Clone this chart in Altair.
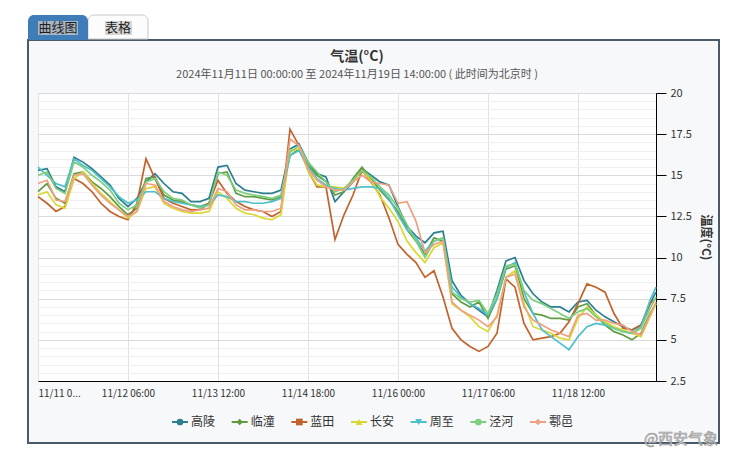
import altair as alt
import pandas as pd

FONT = "Noto Sans CJK SC"

series = ["高陵", "临潼", "蓝田", "长安", "周至", "泾河", "鄠邑"]
colors = ["#2b7f8f", "#5f9c41", "#c2622c", "#d8d830", "#4fbfcc", "#7ccf7c", "#eea182"]
shapes = ["circle", "diamond", "square", "triangle-up", "triangle-down", "circle", "diamond"]

# hours after 2024-11-11 00:00
hours = [0, 3, 6, 9, 12, 15, 18, 21, 24, 27,
         30, 33, 36, 39, 42, 45, 48, 51, 54, 57,
         60, 63, 66, 69, 72, 75, 78, 81, 84, 87,
         90, 93, 96, 99, 102, 105, 108, 111, 114, 117,
         120, 123, 126, 129, 132, 135, 138, 141, 144, 147,
         150, 153, 156, 159, 162, 165, 168, 171, 174, 177,
         180, 183, 186, 189, 192, 195, 198, 201, 204, 206]

gaoling = [15.3, 15.4, 14.3, 14.0, 16.1, 15.8, 15.4, 14.9, 14.4, 13.6,
           13.1, 13.6, 14.6, 15.1, 14.5, 14.0, 13.9, 13.4, 13.4, 13.6,
           15.5, 15.6, 14.5, 14.1, 14.0, 13.9, 13.9, 14.1, 16.6, 16.9,
           15.8, 15.1, 14.9, 13.4, 14.0, 14.6, 15.4, 15.0, 14.6, 14.4,
           13.1, 11.9, 11.3, 10.9, 11.5, 11.6, 8.6, 7.7, 7.2, 6.8,
           6.4, 8.0, 9.8, 10.0, 8.6, 7.8, 7.3, 7.0, 7.0, 6.7,
           7.3, 7.4, 6.8, 6.4, 6.1, 5.8, 5.6, 5.9, 7.2, 7.9]
lintong = [14.0, 14.5, 13.6, 13.3, 15.1, 15.2, 14.6, 14.2, 13.7, 13.1,
           12.6, 13.0, 14.8, 14.9, 13.8, 13.5, 13.4, 13.2, 13.1, 13.3,
           15.1, 15.2, 13.9, 13.7, 13.7, 13.6, 13.5, 13.7, 16.2, 16.6,
           15.6, 15.0, 14.6, 13.8, 14.0, 14.8, 15.5, 14.8, 14.1, 13.5,
           12.8, 11.7, 11.0, 10.2, 11.2, 11.0, 7.8, 7.3, 7.0, 7.3,
           6.3, 7.5, 9.3, 9.5, 7.5, 6.6, 6.5, 6.3, 6.3, 6.2,
           7.0, 7.2, 6.5, 5.9, 5.5, 5.3, 5.0, 5.4, 6.6, 7.2]
lantian = [13.7, 13.3, 12.8, 13.1, 14.8, 14.5, 14.0, 13.3, 12.8, 12.5,
           12.3, 13.3, 16.0, 14.8, 13.6, 13.3, 13.1, 12.9, 12.9, 13.3,
           14.7, 13.9, 13.4, 13.1, 12.9, 12.8, 12.5, 12.8, 17.8, 16.8,
           15.3, 14.3, 14.3, 11.1, 12.6, 13.8, 15.3, 14.6, 13.8, 12.4,
           10.8, 10.2, 9.7, 8.8, 9.2, 7.6, 5.7, 5.0, 4.6, 4.3,
           4.6, 5.4, 8.7, 8.2, 6.0, 5.0, 5.1, 5.2, 5.4, 6.1,
           7.2, 8.4, 8.2, 7.9, 6.6, 5.7, 5.6, 5.9, 7.2, 7.5]
changan = [13.8, 14.0, 13.2, 13.0, 14.8, 15.2, 14.5, 13.9, 13.4, 12.9,
           12.4, 12.8, 14.2, 14.3, 13.3, 13.0, 12.8, 12.7, 12.7, 12.8,
           14.0, 13.6, 13.0, 12.7, 12.6, 12.4, 12.3, 12.6, 16.5, 16.6,
           15.3, 14.4, 14.3, 14.3, 14.2, 14.6, 15.3, 14.7, 13.7, 13.0,
           12.2, 11.0, 10.3, 9.7, 10.6, 10.9, 7.2, 6.8, 6.4, 5.8,
           5.5, 6.5, 8.8, 9.2, 7.2, 5.8, 5.6, 5.4, 5.1, 5.0,
           6.3, 7.0, 6.5, 6.1, 5.8, 5.6, 5.4, 5.2, 6.4, 7.2]
zhouzhi = [15.5, 15.0, 14.5, 14.3, 16.0, 15.6, 15.3, 14.8, 14.3, 13.7,
           13.3, 13.5, 14.0, 14.0, 13.6, 13.4, 13.3, 13.2, 13.1, 13.2,
           13.8, 13.7, 13.4, 13.4, 13.3, 13.3, 13.4, 13.6, 16.2, 16.5,
           15.5, 14.8, 14.4, 14.2, 14.1, 14.2, 14.3, 14.3, 14.2, 13.6,
           12.6, 11.7, 11.2, 10.4, 11.0, 11.2, 8.2, 7.6, 7.2, 6.9,
           6.5, 7.5, 9.4, 9.7, 7.9, 6.6, 5.6, 5.2, 4.8, 4.4,
           5.2, 5.8, 6.0, 5.9, 5.7, 5.5, 5.4, 5.8, 7.4, 8.2]
jinghe = [15.0, 15.2, 14.2, 13.9, 15.8, 15.5, 15.0, 14.6, 14.1, 13.3,
          12.9, 13.2, 14.6, 14.8, 14.0, 13.6, 13.5, 13.2, 13.0, 13.2,
          15.2, 15.0, 14.1, 13.9, 13.8, 13.7, 13.6, 13.8, 16.4, 16.8,
          15.8, 15.2, 14.6, 14.0, 14.2, 14.7, 15.3, 14.9, 14.3, 13.8,
          13.0, 12.0, 11.0, 10.0, 11.0, 11.2, 7.9, 7.5, 7.3, 7.4,
          6.6, 7.8, 9.5, 9.6, 8.0, 7.4, 7.2, 6.9, 6.6, 6.3,
          6.7, 6.9, 6.4, 6.0, 5.7, 5.5, 5.4, 5.7, 6.9, 7.6]
huyi = [14.5, 14.7, 13.5, 13.4, 15.0, 15.1, 14.4, 13.8, 13.3, 12.9,
        12.5, 12.8, 14.5, 14.4, 13.4, 13.1, 12.9, 12.8, 12.9, 13.0,
        14.2, 14.0, 13.2, 12.9, 12.9, 12.8, 12.8, 13.0, 17.2, 16.8,
        15.4, 14.7, 14.3, 14.1, 14.1, 14.6, 15.0, 14.6, 14.5, 14.4,
        13.3, 13.4, 12.2, 10.3, 10.8, 11.0, 7.3, 6.8, 6.5, 6.2,
        5.8, 6.4, 8.8, 9.0, 7.0, 6.2, 5.9, 5.6, 5.4, 5.2,
        6.5, 6.6, 6.2, 6.2, 6.0, 5.9, 5.5, 5.3, 6.5, 7.3]

values_by_series = [gaoling, lintong, lantian, changan, zhouzhi, jinghe, huyi]

# x tick positions (day of November, hour)
x_ticks = [(11, 0), (12, 6), (13, 12), (14, 18), (16, 0), (17, 6), (18, 12)]
y_labels = [2.5, 5, 7.5, 10, 12.5, 15, 17.5, 20]
y_grid = [2.5 + 0.5 * k for k in range(36)]

title_text = "气温(°C)"
subtitle_text = "2024年11月11日 00:00:00 至 2024年11月19日 14:00:00 ( 此时间为北京时 )"
y_title = "温度(°C)"

rows = []
for name, vals in zip(series, values_by_series):
    for h, v in zip(hours, vals):
        t = f"2024-11-{11 + h // 24:02d}T{h % 24:02d}:00:00Z"
        rows.append({"t": t, "name": name, "v": v})
df = pd.DataFrame(rows)

W, H = 618, 288
one = pd.DataFrame({"k": [0]})

color_scale = alt.Scale(domain=series, range=colors)

x_scale = alt.Scale(
    type="utc",
    domain=[alt.DateTime(year=2024, month=11, date=11, hours=0, utc=True),
            alt.DateTime(year=2024, month=11, date=19, hours=14, utc=True)],
    nice=False,
)
x_axis = alt.Axis(
    values=[alt.DateTime(year=2024, month=11, date=d, hours=hh, utc=True) for d, hh in x_ticks],
    labelExpr="datum.value <= 1731283200000 ? '11/11 0...' : utcFormat(datum.value, '%m/%d %H:%M')",
    labelFlush=True, labelOverlap=False, ticks=False, grid=True,
    gridColor="#e2e2e2", gridWidth=1, domainColor="#000000", domainWidth=1,
    labelFontSize=10, labelColor="#333333", labelPadding=7, title=None,
)
y_axis = alt.Axis(
    orient="right", values=y_grid, labelOverlap=False,
    labelExpr="datum.value % 2.5 == 0 ? format(datum.value, '.1~f') : ''",
    gridColor={"condition": {"test": "datum.value % 2.5 == 0", "value": "#dadada"}, "value": "#f0f0f0"},
    tickOpacity={"condition": {"test": "datum.value % 2.5 == 0", "value": 1}, "value": 0},
    tickSize=10, tickColor="#000000", domainColor="#000000", domainWidth=1,
    labelFontSize=11, labelColor="#333333", labelPadding=4,
    title=y_title, titleAngle=90, titleFontSize=12, titleColor="#333333",
    titlePadding=7, titleFontWeight="bold",
)

lines = alt.Chart(df).mark_line(strokeWidth=1.7).encode(
    x=alt.X("t:T", scale=x_scale, axis=x_axis),
    y=alt.Y("v:Q", scale=alt.Scale(domain=[2.5, 20], nice=False, zero=False), axis=y_axis),
    color=alt.Color("name:N", scale=color_scale, legend=None),
)

# decorations (outside the plot area)
def box(x1, x2, y1, y2, **kw):
    return alt.Chart(one).mark_rect(**kw).encode(
        x=alt.value(x1), x2=alt.value(x2), y=alt.value(y1), y2=alt.value(y2))

def label(x, y, text, **kw):
    return alt.Chart(one).mark_text(font=FONT, **kw).encode(
        x=alt.value(x), y=alt.value(y), text=alt.value(text))

whites = [
    box(-30, 685, -85, -53, color="#ffffff"),
    box(-30, -10, -85, 358, color="#ffffff"),
    box(681, 685, -85, 358, color="#ffffff"),
    box(-30, 685, 350, 358, color="#ffffff"),
]
panel = box(-10, 681, -53, 350, fillOpacity=0, stroke="#4a5a6b", strokeWidth=2)
panel_top = box(-10, 681, -54, -52, color="#4a5a6b")
tab1 = box(-10, 50, -78, -53, color="#3f7db8", cornerRadiusTopLeft=6, cornerRadiusTopRight=6)
tab2 = box(50, 110, -78, -54, fill="#fcfcfc", stroke="#c9c9c9", strokeWidth=1,
           cornerRadiusTopLeft=6, cornerRadiusTopRight=6)
hl1 = box(0, 40, -72, -58, color="#a9b6c4")
hl2 = box(67, 94, -72, -58, color="#d6d6d6")
t1 = label(20, -65, "曲线图", fontSize=13, color="#1f1f1f", align="center", baseline="middle")
t2 = label(80, -65, "表格", fontSize=13, color="#1f1f1f", align="center", baseline="middle")
title = label(319, -36, title_text, fontSize=14, fontWeight="bold", color="#333333",
              align="center", baseline="middle")
subtitle = label(319, -18, subtitle_text, fontSize=11, color="#555555",
                 align="center", baseline="middle")
watermark = label(643, 346, "@西安气象", fontSize=15, color="#d4d4d4", stroke="#9a9a9a",
                  strokeWidth=0.6, align="center", baseline="middle")

# legend drawn from the series list
leg_df = pd.DataFrame({"name": series})
leg_x = alt.X("name:N", scale=alt.Scale(type="point", domain=series, range=[142, 500], padding=0),
              axis=None)
leg_y = alt.value(329)
leg_line = alt.Chart(leg_df).mark_point(shape="stroke", size=256, strokeWidth=2, opacity=1,
                                        filled=False).encode(
    x=leg_x, y=leg_y, color=alt.Color("name:N", scale=color_scale, legend=None))
leg_mark = alt.Chart(leg_df).mark_point(filled=True, size=45, opacity=1).encode(
    x=leg_x, y=leg_y, color=alt.Color("name:N", scale=color_scale, legend=None),
    shape=alt.Shape("name:N", scale=alt.Scale(domain=series, range=shapes), legend=None))
leg_text = alt.Chart(leg_df).mark_text(font=FONT, fontSize=12, color="#333333", align="left",
                                       baseline="middle", dx=11).encode(
    x=leg_x, y=leg_y, text="name:N")

chart = alt.layer(
    *whites, panel, panel_top, tab2, tab1, hl1, hl2, t1, t2, title, subtitle,
    lines, leg_line, leg_mark, leg_text, watermark,
).resolve_scale(
    x="independent"
).properties(
    width=W, height=H,
    autosize=alt.AutoSizeParams(type="none"),
    padding={"left": 30, "top": 85, "right": 67, "bottom": 70},
    background="#f7f8fa",
).configure(
    font=FONT
).configure_view(
    fill="#ffffff", stroke="#d0d0d0"
)

chart.save("out.html", embed_options={"renderer": "svg", "actions": False})
